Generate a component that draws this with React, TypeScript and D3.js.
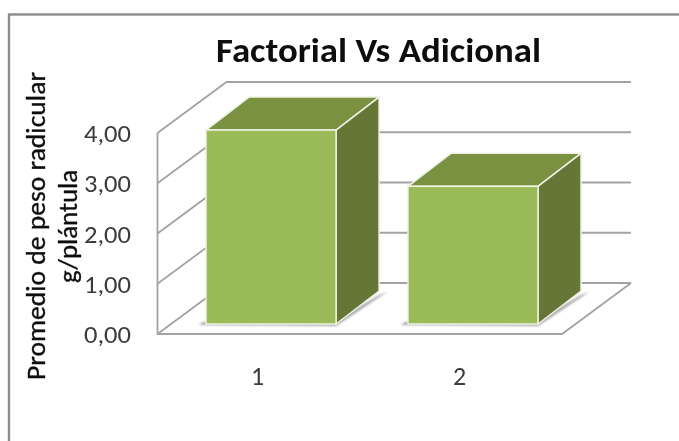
import React from "react";
import * as d3 from "d3";

const categories = ["1", "2"];
const values = [3.86, 2.74];
const ticks = [0, 1, 2, 3, 4];
const title = "Factorial Vs Adicional";
const axisLines = ["Promedio  de peso radicular", "g/plántula"];

const W = 679, H = 441;
const font = "Carlito, Calibri, 'Open Sans', 'Noto Sans', sans-serif";
const GRID = "#a3a3a3";

export default function App() {
  const y = d3.scaleLinear().domain([0, 4]).range([334, 133]);
  const x = d3.scaleBand().domain(categories).range([206, 538]).paddingInner(0.356).paddingOuter(0);
  const wallDx = 69, wallDy = -51;
  const barDx = 43, barDy = -33;
  const barBase = 324;
  const barScale = (y(0) - y(1));
  const line = d3.line();
  const fmt = (v: number) => v.toFixed(2).replace(".", ",");

  return (
    <svg width={W} height={H} style={{ position: "absolute", left: 0, top: 0, background: "#fff" }}>
      <defs>
        <filter id="soft" x="-5%" y="-5%" width="110%" height="110%"><feGaussianBlur stdDeviation="0.45" /></filter>
        <filter id="txt" x="-5%" y="-5%" width="110%" height="110%"><feGaussianBlur stdDeviation="0.3" /></filter>
        <filter id="shadow" x="-20%" y="-20%" width="140%" height="140%"><feGaussianBlur stdDeviation="1.2" /></filter>
      </defs>
      <rect x={9} y={14.5} width={690} height={450} fill="#fff" stroke="#8c8c8c" strokeWidth={2.4} />
      <g filter="url(#soft)" fill="none" stroke={GRID} strokeWidth={1.8}>
        {ticks.map(t => (
          <path key={t} d={line([[157.5, y(t)], [157.5 + wallDx, y(t) + wallDy], [157.5 + wallDx + 404.5, y(t) + wallDy]])!} />
        ))}
        <path d={line([[157.5, y(4)], [157.5, y(0)], [562, y(0)], [562 + wallDx, y(0) + wallDy]])!} />
      </g>
      {values.map((v, i) => {
        const x0 = x(categories[i])!, x1 = x0 + x.bandwidth();
        const top = barBase - v * barScale;
        return (
          <g key={i}>
            <path filter="url(#shadow)" fill="#a8a8a8" d={line([[x0 - 7, barBase + 1], [x1, barBase + 2], [x1 + barDx + 8, barBase + barDy + 1], [x1 + barDx, barBase + barDy + 4], [x1, barBase - 4], [x0 - 3, barBase - 2]])! + "Z"} />
            <path fill="#7a9142" stroke="#eef2e4" strokeWidth={1.5} d={line([[x0, top], [x0 + barDx, top + barDy], [x1 + barDx, top + barDy], [x1, top]])! + "Z"} />
            <path fill="#657637" stroke="#eef2e4" strokeWidth={1.5} d={line([[x1, top], [x1 + barDx, top + barDy], [x1 + barDx, barBase + barDy], [x1, barBase]])! + "Z"} />
            <rect x={x0} y={top} width={x.bandwidth()} height={barBase - top} fill="#9bbb59" stroke="#eef2e4" strokeWidth={1.5} />
          </g>
        );
      })}
      <g filter="url(#txt)">
        <text x={216} y={62} textLength={325} lengthAdjust="spacingAndGlyphs" fontFamily={font} fontSize={35} fontWeight={700} fill="#111">{title}</text>
        <g fontFamily={font} fontSize={25} fill="#3a3a3a">
          {ticks.map(t => <text key={t} x={84} y={y(t) + 9} textLength={47} lengthAdjust="spacingAndGlyphs">{fmt(t)}</text>)}
        </g>
        <g fontFamily={font} fontSize={26} fill="#3a3a3a" textAnchor="middle">
          {categories.map(c => <text key={c} x={x(c)! + x.bandwidth() / 2 - 13.5} y={385}>{c}</text>)}
        </g>
        <g fontFamily={font} fontSize={26} fill="#111" stroke="#111" strokeWidth={0.35}>
          <text transform="translate(45,380) rotate(-90)" textLength={308} lengthAdjust="spacingAndGlyphs">{axisLines[0]}</text>
          <text transform="translate(77,283) rotate(-90)" textLength={113} lengthAdjust="spacingAndGlyphs">{axisLines[1]}</text>
        </g>
      </g>
    </svg>
  );
}
